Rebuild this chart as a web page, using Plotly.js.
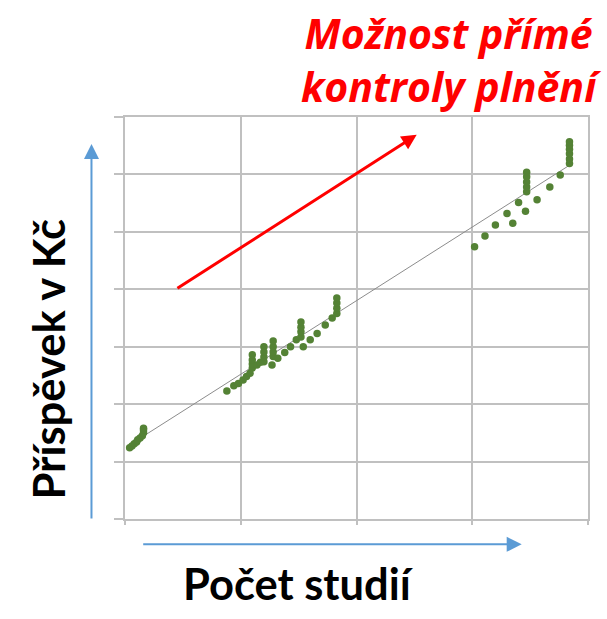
<!DOCTYPE html>
<html>
<head>
<meta charset="utf-8">
<script src="https://cdn.plot.ly/plotly-3.0.1.min.js"></script>
<style>html,body{margin:0;padding:0;background:#fff;}#chart{width:607px;height:619px;}</style>
</head>
<body>
<div id="chart"></div>
<script>
// Počet studií (x) a příspěvek v Kč (y)
const pocetStudii = [
  4, 6, 8, 10, 11, 13, 15, 16, 16, 16,
  88, 94, 98, 102, 105, 108, 110, 110, 110, 110, 114, 117,
  120, 120, 120, 120, 127, 128, 128, 128, 128, 132, 138, 143, 148,
  152, 152, 152, 152, 154, 160, 166, 173, 179, 183, 183, 183, 183,
  302, 311, 320, 330, 335, 340, 346, 347, 347, 347, 347, 347,
  356, 367, 376, 384, 384, 384, 384, 384, 384
];
const prispevek = [
  124, 127, 131, 134, 138, 141, 145, 150, 155, 158,
  223, 232, 236, 242, 248, 254, 263, 270, 277, 286, 268, 273,
  274, 282, 291, 300, 268, 283, 291, 300, 310, 280, 290, 300, 312,
  317, 326, 334, 343, 300, 312, 323, 338, 350, 358, 367, 376, 385,
  474, 493, 512, 532, 515, 551, 536, 570, 578, 587, 596, 604,
  556, 578, 599, 619, 627, 636, 644, 651, 657
];
// trend line
const trendX = [4, 384];
const trendY = [129, 616];
// red arrow (tail, tip) in data units
const redArrowX = [44, 252];
const redArrowY = [400, 669];

const xTitle = 'Počet studií';
const yTitle = 'Příspěvek v Kč';
const noteText = 'Možnost přímé<br>kontroly plnění';

const gridColor = '#c0c0c0';

const traces = [
  {
    x: trendX, y: trendY, type: 'scatter', mode: 'lines',
    line: {color: '#8c8c8c', width: 1}, hoverinfo: 'skip', showlegend: false
  },
  {
    x: pocetStudii, y: prispevek, type: 'scatter', mode: 'markers',
    marker: {color: '#548235', size: 7.5}, showlegend: false
  }
];

const layout = {
  width: 607, height: 619,
  margin: {l: 125, r: 19, t: 117, b: 100, pad: 0},
  paper_bgcolor: '#ffffff', plot_bgcolor: '#ffffff',
  showlegend: false, hovermode: false,
  xaxis: {
    range: [0, 400], dtick: 100, tick0: 0,
    showgrid: true, gridcolor: gridColor, gridwidth: 2,
    showline: true, linecolor: gridColor, linewidth: 2, mirror: true,
    ticks: 'outside', ticklen: 4, tickcolor: gridColor, tickwidth: 2,
    showticklabels: false, zeroline: false, fixedrange: true
  },
  yaxis: {
    range: [0, 700], dtick: 100, tick0: 0,
    showgrid: true, gridcolor: gridColor, gridwidth: 2,
    showline: true, linecolor: gridColor, linewidth: 2, mirror: true,
    ticks: 'outside', ticklen: 9, tickcolor: gridColor, tickwidth: 2,
    showticklabels: false, zeroline: false, fixedrange: true
  },
  annotations: [
    {
      x: redArrowX[1], y: redArrowY[1], xref: 'x', yref: 'y',
      ax: redArrowX[0], ay: redArrowY[0], axref: 'x', ayref: 'y',
      text: '', showarrow: true, arrowhead: 2, arrowsize: 1, arrowwidth: 3,
      arrowcolor: '#ff0000', standoff: 0
    },
    {
      x: -0.0724, y: 0.9328, xref: 'paper', yref: 'paper',
      ax: 0, ay: 376, text: '', showarrow: true, arrowhead: 2,
      arrowsize: 1.5, arrowwidth: 2, arrowcolor: '#5b9bd5', standoff: 0
    },
    {
      x: 0.8568, y: -0.0629, xref: 'paper', yref: 'paper',
      ax: -380, ay: 0, text: '', showarrow: true, arrowhead: 2,
      arrowsize: 1.5, arrowwidth: 2, arrowcolor: '#5b9bd5', standoff: 0
    },
    {
      x: 0.3747, y: -0.1604, xref: 'paper', yref: 'paper',
      xanchor: 'center', yanchor: 'middle', showarrow: false,
      text: xTitle,
      font: {family: 'Lato', size: 43.5, color: '#000000', weight: 'bold'}
    },
    {
      x: -0.1663, y: 0.397, xref: 'paper', yref: 'paper',
      xanchor: 'center', yanchor: 'middle', showarrow: false,
      text: yTitle, textangle: -90,
      font: {family: 'Lato', size: 43.5, color: '#000000', weight: 'bold'}
    },
    {
      x: 0.705, y: 1.283, xref: 'paper', yref: 'paper',
      xanchor: 'center', yanchor: 'top', showarrow: false, align: 'center',
      text: noteText,
      font: {family: 'Open Sans', size: 41, color: '#ff0000', weight: 'bold', style: 'italic'}
    }
  ]
};

Plotly.newPlot('chart', traces, layout, {displayModeBar: false, staticPlot: true});
</script>
</body>
</html>
